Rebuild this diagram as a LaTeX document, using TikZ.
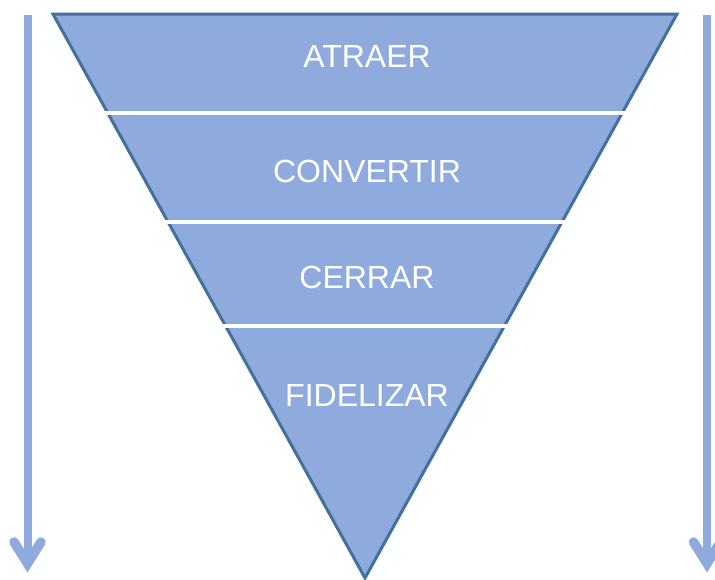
\documentclass[tikz,border=0pt]{standalone}
\usepackage{fontspec}
\setmainfont{Liberation Sans}
\usetikzlibrary{calc}
\definecolor{funnelfill}{HTML}{8FAADC}
\definecolor{funnelline}{HTML}{41719C}
\begin{document}
\begin{tikzpicture}[x=1pt,y=-1pt,
  funnel/.style={fill=funnelfill,draw=funnelline,line width=3pt,line join=miter},
  sep/.style={draw=white,line width=4pt,shorten <=-3pt,shorten >=-3pt},
  label/.style={text=white,font=\fontsize{32}{36}\selectfont,inner sep=0pt},
  shaft/.style={draw=funnelfill,line width=8pt},
  barb/.style={draw=funnelfill,line width=9.5pt,line cap=round,line join=miter}]
\useasboundingbox (0,0) rectangle (715,579);
% funnel outline
\coordinate (tl) at (53,14);
\coordinate (tr) at (677,14);
\coordinate (apex) at (365,578);
\draw[funnel] (tl) -- (tr) -- (apex) -- cycle;
% white dividers between the stages
\draw[sep] ($(tl)!0.1755!(apex)$) -- ($(tr)!0.1755!(apex)$);
\draw[sep] ($(tl)!0.3688!(apex)$) -- ($(tr)!0.3688!(apex)$);
\draw[sep] ($(tl)!0.5532!(apex)$) -- ($(tr)!0.5532!(apex)$);
% stage labels
\node[label] (s1) at (367,56) {ATRAER};
\node[label] (s2) at (367,171) {CONVERTIR};
\node[label] (s3) at (367,277) {CERRAR};
\node[label] (s4) at (367,395) {FIDELIZAR};
% side arrows
\foreach \n/\x in {l/27.5,r/707} {
  \coordinate (\n top) at (\x,15);
  \coordinate (\n tip) at (\x,563.5);
  \coordinate (\n a) at (\x-13.5,542);
  \coordinate (\n b) at (\x+13.5,542);
  \draw[shaft] (\n top) -- (\n tip);
  \draw[barb] (\n a) -- (\n tip) -- (\n b);
}
\end{tikzpicture}
\end{document}
